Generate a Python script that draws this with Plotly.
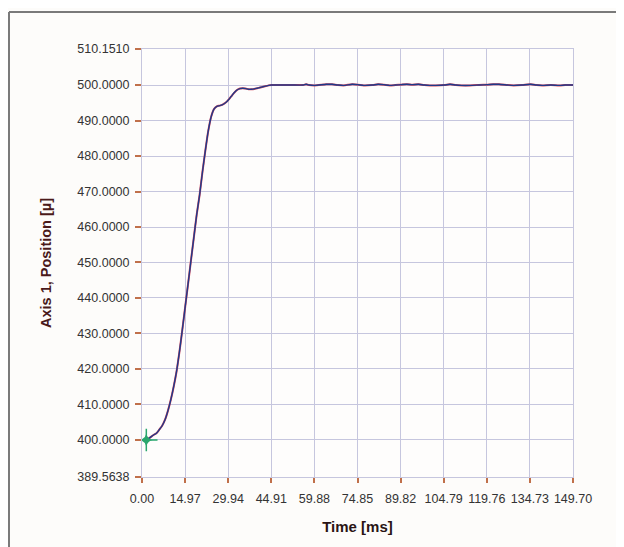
import plotly.graph_objects as go

# ---- data ----
time_ms = [0, 1, 2, 3, 4, 5, 6, 7, 8, 9, 10, 11, 12, 13, 14, 15, 16, 17, 18, 19,
           20, 21, 22, 23, 24, 25, 26, 27, 28, 29, 30, 31, 32, 33, 34, 35, 36, 37,
           38, 39, 40, 41, 42, 43, 44, 45, 48, 52, 56, 57, 58, 60, 64, 66, 68, 70,
           73, 75, 77, 80, 82, 84, 86, 88, 90, 92, 94, 96, 98, 100, 102, 105, 107,
           109, 111, 114, 117, 120, 122, 124, 127, 129, 132, 135, 137, 139, 142,
           145, 147, 149.7]
position = [400.0, 399.9, 400.2, 400.8, 401.4, 401.9, 402.9, 404.0, 405.7, 408.2,
            411.3, 415.0, 419.3, 424.8, 431.0, 437.5, 444.0, 450.5, 457.0, 463.5,
            469.0, 475.5, 481.5, 487.0, 491.0, 493.2, 494.0, 494.2, 494.5, 495.0,
            495.8, 496.8, 497.8, 498.6, 499.0, 499.1, 499.0, 498.8, 498.8, 498.9,
            499.1, 499.3, 499.5, 499.7, 499.9, 500.0, 500.0, 500.0, 500.0, 500.2,
            500.0, 499.9, 500.2, 500.2, 500.0, 499.9, 500.2, 500.1, 499.9, 500.0,
            500.2, 500.1, 499.9, 500.0, 500.1, 500.2, 500.1, 500.2, 500.0, 499.9,
            499.9, 500.0, 500.2, 500.0, 499.9, 499.9, 500.0, 500.1, 500.2, 500.2,
            500.0, 499.9, 500.0, 500.2, 500.0, 499.9, 500.0, 499.9, 500.0, 500.0]
cursor_t = [1.5]
cursor_v = [400.0]

x_ticks = [0.00, 14.97, 29.94, 44.91, 59.88, 74.85, 89.82, 104.79, 119.76, 134.73, 149.70]
y_ticks = [389.5638, 400, 410, 420, 430, 440, 450, 460, 470, 480, 490, 500, 510.1510]

grid_c = "#c6c6de"
tick_c = "#c0704a"
font_f = "Liberation Sans, Arial, sans-serif"

fig = go.Figure()
fig.add_trace(go.Scatter(x=time_ms, y=position, mode="lines",
                         line=dict(color="#d84858", width=2.0, shape="spline", smoothing=0.6),
                         hoverinfo="skip", showlegend=False))
fig.add_trace(go.Scatter(x=time_ms, y=position, mode="lines",
                         line=dict(color="#1f3a8a", width=1.4, shape="spline", smoothing=0.6),
                         showlegend=False))
fig.add_trace(go.Scatter(x=cursor_t, y=cursor_v, mode="markers",
                         marker=dict(symbol="cross-thin", size=16,
                                     line=dict(color="#2aa66e", width=1.5)),
                         showlegend=False))
fig.add_trace(go.Scatter(x=cursor_t, y=cursor_v, mode="markers",
                         marker=dict(symbol="star-diamond", size=9, color="#2aa66e",
                                     line=dict(width=0)),
                         showlegend=False))

fig.update_xaxes(range=[0, 149.7], tickvals=x_ticks,
                 ticktext=[f"{v:.2f}" for v in x_ticks],
                 showgrid=True, gridcolor=grid_c, gridwidth=1,
                 showline=True, linecolor=grid_c, linewidth=1, mirror=True,
                 ticks="outside", ticklen=5, tickcolor=tick_c, tickwidth=1.5,
                 ticklabelstandoff=5,
                 zeroline=False,
                 tickfont=dict(family=font_f, size=12.5, color="#333333"),
                 title=dict(text="<b>Time [ms]</b>", standoff=16,
                            font=dict(family=font_f, size=15, color="#2a1414")))
fig.update_yaxes(range=[389.5638, 510.1510], tickvals=y_ticks,
                 ticktext=[f"{v:.4f}" for v in y_ticks],
                 showgrid=True, gridcolor=grid_c, gridwidth=1,
                 showline=True, linecolor=grid_c, linewidth=1, mirror=True,
                 ticks="outside", ticklen=6, tickcolor=tick_c, tickwidth=1.5,
                 ticklabelstandoff=3,
                 zeroline=False,
                 tickfont=dict(family=font_f, size=12.5, color="#333333"),
                 title=dict(text="<b>Axis 1, Position [µ]</b>", standoff=22,
                            font=dict(family=font_f, size=14.5, color="#4a1a1a")))

# outer frame (top and left border lines)
fig.add_shape(type="line", xref="paper", yref="paper",
              x0=-0.3086, x1=1.12, y0=1.0864, y1=1.0864,
              line=dict(color="#7a7a7a", width=2))
fig.add_shape(type="line", xref="paper", yref="paper",
              x0=-0.3086, x1=-0.3086, y0=1.0864, y1=-0.17,
              line=dict(color="#7a7a7a", width=2))

fig.update_layout(width=616, height=539,
                  margin=dict(l=134, r=51, t=41, b=70),
                  paper_bgcolor="#fdfcfa", plot_bgcolor="#fefdfc",
                  font=dict(family=font_f))

fig.write_html("out.html")
